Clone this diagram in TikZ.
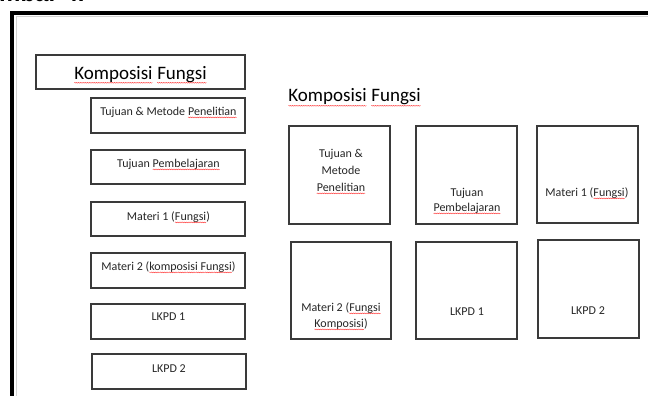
\documentclass[tikz,border=0pt]{standalone}
\usepackage{fontspec}
\setmainfont{Carlito}
\newfontfamily\capfont{Liberation Sans}
\usetikzlibrary{decorations.pathmorphing}
\definecolor{boxline}{HTML}{3A3A3A}
\definecolor{txt}{HTML}{262626}
\newcommand\sq[1]{\tikz[baseline=(w.base)]{\node[inner sep=0pt,outer sep=0pt](w){#1};\draw[red!80,line width=0.35pt,decorate,decoration={snake,amplitude=0.45pt,segment length=1.8pt}]([yshift=-0.2em]w.base west)--([yshift=-0.2em]w.base east);}}
\tikzset{
  box/.style={draw=boxline, line width=1.3pt, inner sep=0pt},
  lbl/.style={anchor=base, inner sep=0pt, font=\fontsize{12}{14}\selectfont, text=txt},
  ttl/.style={anchor=base, inner sep=0pt, font=\fontsize{19}{22}\selectfont, text=black},
}
\begin{document}
\begin{tikzpicture}[x=1pt,y=-1pt]
\useasboundingbox (0,0) rectangle (648,396);
\fill[white] (0,0) rectangle (648,396);
% cut caption
\begin{scope}
\clip (0,0) rectangle (648,396);
\node[anchor=base west, inner sep=0pt, font=\capfont\bfseries\fontsize{24}{28}\selectfont] (cap) at (-33,1.8) {Gambar 4.};
\end{scope}
% frame
\coordinate (fbl) at (12,400);
\coordinate (ftl) at (12,13);
\coordinate (ftr) at (652,13);
\draw[black, line width=3.2pt] (fbl) -- (ftl) -- (ftr);
\coordinate (gbl) at (16,400);
\coordinate (gtl) at (16,17);
\coordinate (gtr) at (652,17);
\draw[gray!35, line width=1pt] (gbl) -- (gtl) -- (gtr);
% left column
\node[box, minimum width=209pt, minimum height=34pt] (L0) at (140.5,72) {};
\node[ttl] (L0t) at (140.5,79) {\sq{Komposisi} \sq{Fungsi}};
\node[box, minimum width=154pt, minimum height=35pt] (L1) at (168,115.5) {};
\node[lbl] (L1t) at (168.5,115) {Tujuan \& Metode \sq{Penelitian}};
\node[box, minimum width=154pt, minimum height=34pt] (L2) at (168,167) {};
\node[lbl] (L2t) at (168.5,167) {Tujuan \sq{Pembelajaran}};
\node[box, minimum width=154pt, minimum height=34pt] (L3) at (168,219) {};
\node[lbl] (L3t) at (168.5,220) {Materi 1 (\sq{Fungsi})};
\node[box, minimum width=154pt, minimum height=35pt] (L4) at (168,270.5) {};
\node[lbl] (L4t) at (168.5,270) {Materi 2 (\sq{komposisi Fungsi})};
\node[box, minimum width=154pt, minimum height=35pt] (L5) at (168,321.5) {};
\node[lbl] (L5t) at (168.5,320) {LKPD 1};
\node[box, minimum width=154pt, minimum height=35pt] (L6) at (169,371.5) {};
\node[lbl] (L6t) at (169,372) {LKPD 2};
% right grid
\node[ttl, anchor=base west] (Rt) at (288,102) {\sq{Komposisi} \sq{Fungsi}};
\node[box, minimum width=101pt, minimum height=98pt] (R1) at (339.5,175) {};
\node[lbl] (R1a) at (341,157) {Tujuan \&};
\node[lbl] (R1b) at (341,174) {Metode};
\node[lbl] (R1c) at (341,191) {\sq{Penelitian}};
\node[box, minimum width=101pt, minimum height=98pt] (R2) at (466.5,175) {};
\node[lbl] (R2a) at (467,196) {Tujuan};
\node[lbl] (R2b) at (467,211) {\sq{Pembelajaran}};
\node[box, minimum width=101pt, minimum height=97pt] (R3) at (587.5,174.5) {};
\node[lbl] (R3a) at (587,196) {Materi 1 (\sq{Fungsi})};
\node[box, minimum width=100pt, minimum height=97pt] (R4) at (341,290.5) {};
\node[lbl] (R4a) at (341,311) {Materi 2 (\sq{Fungsi}};
\node[lbl] (R4b) at (341,327) {\sq{Komposisi})};
\node[box, minimum width=101pt, minimum height=97pt] (R5) at (466.5,290.5) {};
\node[lbl] (R5a) at (467,315) {LKPD 1};
\node[box, minimum width=101pt, minimum height=98pt] (R6) at (588.5,289) {};
\node[lbl] (R6a) at (588,314) {LKPD 2};
\end{tikzpicture}
\end{document}
